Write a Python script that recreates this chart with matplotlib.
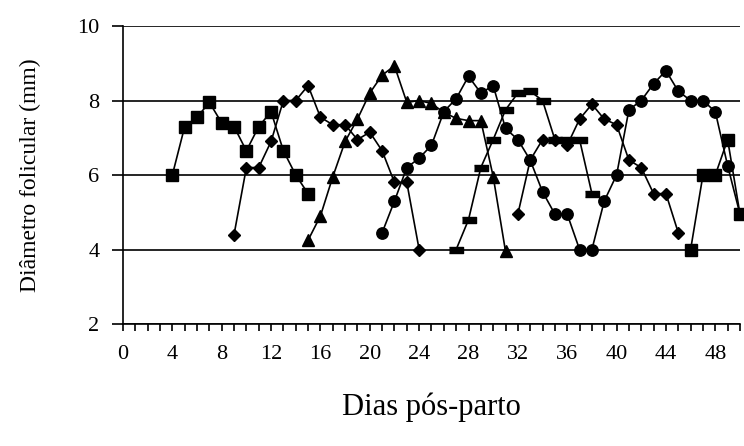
import matplotlib
matplotlib.use('Agg')
import matplotlib.pyplot as plt
from matplotlib.ticker import MultipleLocator

plt.rcParams['font.family'] = ['Liberation Serif', 'DejaVu Serif']

# first wave, squares
sq1_days = [4, 5, 6, 7, 8, 9, 10, 11, 12, 13, 14, 15]
sq1_mm = [6.0, 7.3, 7.55, 7.95, 7.4, 7.3, 6.65, 7.3, 7.7, 6.65, 6.0, 5.5]

# diamonds, first wave
dm1_days = [9, 10, 11, 12, 13, 14, 15, 16, 17, 18, 19, 20, 21, 22, 23, 24]
dm1_mm = [4.4, 6.2, 6.2, 6.9, 8.0, 8.0, 8.4, 7.55, 7.35, 7.35, 6.95, 7.15, 6.65, 5.8, 5.8, 4.0]

# triangles
tr_days = [15, 16, 17, 18, 19, 20, 21, 22, 23, 24, 25, 26, 27, 28, 29, 30, 31]
tr_mm = [4.25, 4.9, 5.95, 6.9, 7.5, 8.2, 8.68, 8.93, 7.95, 8.0, 7.92, 7.68, 7.52, 7.46, 7.46, 5.96, 3.95]

# circles
ci_days = [21, 22, 23, 24, 25, 26, 27, 28, 29, 30, 31, 32, 33, 34, 35, 36, 37, 38,
           39, 40, 41, 42, 43, 44, 45, 46, 47, 48, 49, 50]
ci_mm = [4.45, 5.3, 6.2, 6.45, 6.8, 7.7, 8.05, 8.65, 8.2, 8.4, 7.25, 6.95, 6.4, 5.55, 4.95, 4.95, 4.0, 4.0,
         5.3, 6.0, 7.75, 8.0, 8.45, 8.8, 8.25, 8.0, 8.0, 7.7, 6.25, 4.95]

# dashes
da_days = [27, 28, 29, 30, 31, 32, 33, 34, 35, 36, 37, 38]
da_mm = [4.0, 4.8, 6.2, 6.95, 7.75, 8.2, 8.25, 8.0, 6.95, 6.95, 6.95, 5.5]

# diamonds, second wave
dm2_days = [32, 33, 34, 35, 36, 37, 38, 39, 40, 41, 42, 43, 44, 45]
dm2_mm = [4.95, 6.4, 6.95, 6.95, 6.8, 7.5, 7.9, 7.5, 7.35, 6.4, 6.2, 5.5, 5.5, 4.45]

# squares, last wave
sq2_days = [46, 47, 48, 49, 50]
sq2_mm = [4.0, 6.0, 6.0, 6.95, 4.95]

dash = [(-1, -0.5), (1, -0.5), (1, 0.5), (-1, 0.5)]

fig = plt.figure(figsize=(7.44, 4.46), dpi=100)
ax = fig.add_axes([0.1653, 0.2735, 0.8293, 0.6682])

kw = dict(color='black', lw=1.2, clip_on=False, zorder=3)
ax.plot(sq1_days, sq1_mm, marker='s', ms=8.3, **kw)
ax.plot(dm1_days, dm1_mm, marker='D', ms=6.5, **kw)
ax.plot(tr_days, tr_mm, marker='^', ms=8.5, **kw)
ax.plot(ci_days, ci_mm, marker='o', ms=8.2, **kw)
ax.plot(da_days, da_mm, marker=dash, ms=10, **kw)
ax.plot(dm2_days, dm2_mm, marker='D', ms=6.5, **kw)
ax.plot(sq2_days, sq2_mm, marker='s', ms=8.3, **kw)

ax.set_xlim(0, 50)
ax.set_ylim(2, 10)
ax.xaxis.set_major_locator(MultipleLocator(4))
ax.xaxis.set_minor_locator(MultipleLocator(1))
ax.yaxis.set_major_locator(MultipleLocator(2))

for s in ['top', 'right']:
    ax.spines[s].set_visible(False)
for s in ['left', 'bottom']:
    ax.spines[s].set_linewidth(1.2)

ax.yaxis.grid(True, color='black', lw=1.2)
ax.set_axisbelow(True)

ax.tick_params(axis='x', which='both', direction='out', length=5, width=1.2,
               labelsize=16, pad=10)
ax.tick_params(axis='y', direction='out', length=8, width=1.2, labelsize=16, pad=9)

ax.set_xlabel('Dias pós-parto', fontsize=22)
ax.set_ylabel('Diâmetro folicular (mm)', fontsize=17)
ax.xaxis.set_label_coords(0.5, -0.23)
ax.yaxis.set_label_coords(-0.133, 0.5)

fig.savefig('out.png', dpi=100)
